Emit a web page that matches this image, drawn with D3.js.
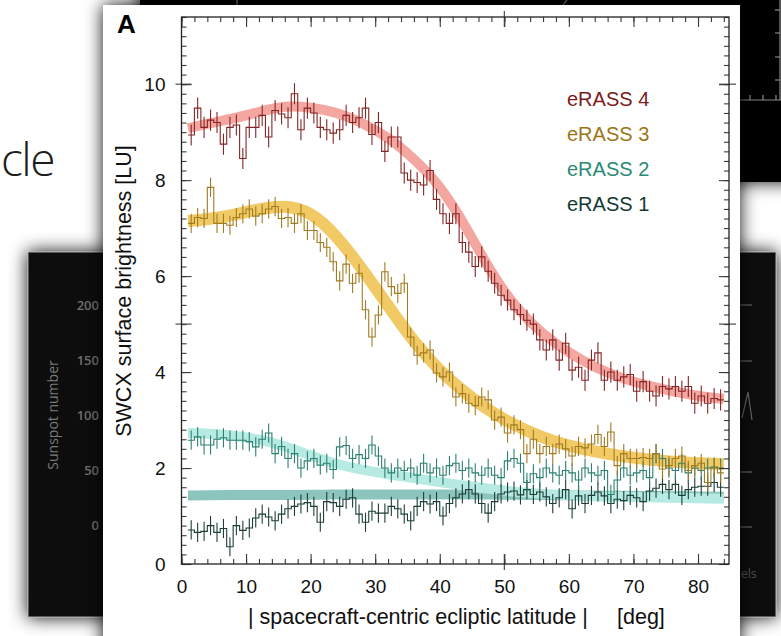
<!DOCTYPE html>
<html><head><meta charset="utf-8">
<script src="https://cdn.jsdelivr.net/npm/d3@7/dist/d3.min.js"></script>
<style>body{margin:0;background:#fff;overflow:hidden}svg{display:block}</style>
</head><body>
<script>
// ---------- DATA ----------
const binLo = d3.range(1, 84);              // latitude bins [deg], width 1
const binWidth = 1;
const e4 = [8.94,9.5,9.1,9.25,9.2,8.75,9.1,9.15,8.45,9.1,9.1,9.35,8.9,9.45,9.38,9.3,9.8,9.05,9.5,9.4,
            9.1,9.05,8.98,9.05,9.35,9.2,9.3,9.5,8.95,9.2,8.6,8.9,8.9,8.15,8.0,7.95,7.9,8.2,7.6,7.3,
            7.1,7.3,6.7,6.5,6.2,6.4,6.1,5.85,5.6,5.5,5.3,5.2,5.08,5.0,4.67,4.46,4.67,4.25,4.6,4.04,
            4.1,3.83,4.25,4.4,3.83,4.0,3.83,3.9,3.95,3.6,3.8,3.6,3.5,3.7,3.65,3.7,3.6,3.7,3.35,3.5,
            3.35,3.45,3.42];
const e3 = [7.1,7.22,7.2,7.85,7.1,7.1,7.06,7.22,7.3,7.4,7.25,7.3,7.4,7.45,7.2,7.22,7.1,7.3,6.95,6.95,
            6.7,6.6,6.3,5.9,6.25,5.85,6.06,5.3,4.73,5.19,6.09,5.78,5.64,5.85,4.73,4.35,4.4,4.46,3.98,3.9,
            4.0,3.48,3.55,3.35,3.3,3.48,3.42,3.0,3.06,2.73,2.9,2.8,2.3,2.6,2.3,2.45,2.3,2.5,2.4,2.25,
            2.45,2.42,2.5,2.7,2.45,2.75,2.05,2.3,2.2,2.2,2.22,2.2,2.3,1.98,2.05,2.2,2.25,1.95,2.05,2.1,
            1.7,2.0,1.9];
const e2 = [2.58,2.65,2.48,2.48,2.6,2.63,2.58,2.58,2.58,2.55,2.44,2.6,2.73,2.3,2.45,2.2,2.3,2.0,2.15,2.2,
            2.06,2.1,1.97,2.44,2.47,2.2,2.28,2.2,2.48,2.25,2.0,1.9,2.0,1.95,2.0,1.85,2.1,1.9,2.0,1.85,
            2.05,2.1,1.95,2.0,1.9,1.85,2.0,1.85,1.8,2.15,2.2,2.1,1.7,1.88,1.8,2.0,1.9,1.85,1.95,1.9,
            1.75,2.0,1.9,1.85,1.95,1.45,1.75,2.0,1.85,1.9,1.95,1.8,2.3,2.2,2.0,1.95,2.1,1.9,2.0,1.95,
            2.0,2.02,2.0];
const e1 = [0.71,0.66,0.68,0.8,0.66,0.74,0.36,0.8,0.7,0.75,0.96,1.04,0.98,0.9,1.04,1.15,1.2,1.25,1.28,1.2,
            0.87,1.3,1.28,1.2,1.35,1.38,1.04,0.87,1.1,1.06,1.06,1.2,1.15,1.04,0.9,1.2,1.3,1.25,1.3,1.0,
            1.26,1.38,1.46,1.55,1.46,1.26,1.06,1.3,1.46,1.5,1.52,1.44,1.55,1.45,1.5,1.4,1.26,1.38,1.55,1.15,
            1.42,1.26,1.43,1.5,1.42,1.26,1.35,1.32,1.43,1.38,1.3,1.52,1.58,1.66,1.55,1.66,1.43,1.55,1.6,1.62,
            1.62,1.7,1.6];
const errs = {e4:0.22, e3:0.2, e2:0.2, e1:0.2};

// smooth model curves (thick bands)
const modelLat = [1,4,8,12,16,20,24,28,32,36,40,44,48,52,56,60,64,68,72,76,80,84];
const m4 = [9.08,9.18,9.28,9.42,9.56,9.52,9.42,9.2,8.9,8.45,7.9,7.05,6.05,5.3,4.78,4.4,4.1,3.88,3.72,3.6,3.5,3.44];
const m3 = [7.15,7.18,7.27,7.4,7.48,7.35,6.85,6.15,5.38,4.62,4.02,3.56,3.16,2.86,2.63,2.46,2.34,2.25,2.18,2.13,2.1,2.08];
const m2 = [2.73,2.72,2.68,2.6,2.46,2.26,2.08,1.96,1.87,1.79,1.71,1.63,1.56,1.5,1.46,1.43,1.41,1.4,1.39,1.38,1.37,1.36];
const m1 = [1.43,1.43,1.44,1.44,1.44,1.44,1.45,1.45,1.45,1.45,1.45,1.45,1.45,1.44,1.44,1.43,1.43,1.42,1.42,1.41,1.41,1.4];

const xMajor = [0,10,20,30,40,50,60,70,80];
const yMajor = [0,2,4,6,8,10];
const legend = ["eRASS 4","eRASS 3","eRASS 2","eRASS 1"];
const sunspotTicks = ["200","150","100","50","0"];

// ---------- STYLE ----------
const col = {
  e4:{line:"#852626", band:"#f4a7a0", text:"#7c1c1c"},
  e3:{line:"#a27c22", band:"#f1c965", text:"#9c7616"},
  e2:{line:"#2d8171", band:"#b6eae2", text:"#2a8a77"},
  e1:{line:"#1d3f37", band:"#8bc5bd", text:"#143a32"}
};
const W = 781, H = 636;
const svg = d3.select("body").append("svg").attr("width", W).attr("height", H);
const defs = svg.append("defs");
const flt = defs.append("filter").attr("id","sh").attr("x","-30%").attr("y","-30%").attr("width","160%").attr("height","160%");
flt.append("feDropShadow").attr("dx",0).attr("dy",0).attr("stdDeviation",9).attr("flood-color","#000").attr("flood-opacity",0.95);

// ---------- BACKGROUND SLIDE ----------
svg.append("rect").attr("width",W).attr("height",H).attr("fill","#fff");
// black image top
svg.append("rect").attr("x",140).attr("y",-30).attr("width",700).attr("height",212).attr("fill","#000").attr("filter","url(#sh)");
const bg = svg.append("g").attr("stroke","#8a8a8a").attr("fill","none").attr("stroke-width",1.2);
bg.append("line").attr("x1",740).attr("x2",781).attr("y1",100).attr("y2",100);
[750,763,776].forEach(v=>bg.append("line").attr("x1",v).attr("x2",v).attr("y1",95).attr("y2",100));
bg.append("line").attr("x1",780).attr("x2",780).attr("y1",0).attr("y2",100);
[10,33,57,80].forEach(v=>bg.append("line").attr("x1",775).attr("x2",780).attr("y1",v).attr("y2",v));
bg.append("path").attr("d","M563,5 L567,0");
bg.append("line").attr("x1",237).attr("x2",237).attr("y1",0).attr("y2",5);

// left dark panel
svg.append("rect").attr("x",28).attr("y",252).attr("width",200).attr("height",365)
  .attr("fill","#0d0d0d").attr("stroke","#a8a8a8").attr("stroke-width",1).attr("filter","url(#sh)");
svg.append("text").attr("transform","translate(58,415) rotate(-90)").attr("text-anchor","middle")
  .attr("font-family","Open Sans").attr("font-size",14).attr("fill","#7a7a7a").text("Sunspot number");
sunspotTicks.forEach((t,i)=>{
  svg.append("text").attr("x",99).attr("y",305+i*55.2).attr("dy","0.35em").attr("text-anchor","end")
    .attr("font-family","Open Sans").attr("font-weight",600).attr("font-size",13).attr("fill","#707070").text(t);
});
// right dark panel
svg.append("rect").attr("x",700).attr("y",252).attr("width",76).attr("height",365)
  .attr("fill","#0d0d0d").attr("stroke","#b0b0b0").attr("stroke-width",1).attr("filter","url(#sh)");
const rp = svg.append("g").attr("stroke","#6a6a6a").attr("stroke-width",1.2).attr("fill","none");
[305,361,472,527].forEach(v=>rp.append("line").attr("x1",740).attr("x2",752).attr("y1",v).attr("y2",v));
rp.append("path").attr("d","M742,418 L748,392 L752,420");
svg.append("text").attr("x",741).attr("y",578).attr("font-family","Open Sans").attr("font-size",12).attr("fill","#555").text("els");

// slide title fragment
svg.append("text").attr("x",1).attr("y",176).attr("font-family","Open Sans")
  .attr("font-weight",300).attr("font-size",46).attr("letter-spacing",-1.5).attr("fill","#1e1e1e").text("cle");

// white figure panel
svg.append("rect").attr("x",103).attr("y",5).attr("width",637).attr("height",680).attr("fill","#fff").attr("filter","url(#sh)");

// ---------- CHART ----------
const x = d3.scaleLinear().domain([0, 84.8]).range([181.5, 729]);
const y = d3.scaleLinear().domain([0, 11.4]).range([564, 17]);
const g = svg.append("g");

// bands
const band = d3.line().x((d,i)=>x(modelLat[i])).y(d=>y(d)).curve(d3.curveBasis);
[["e1",m1,10],["e2",m2,10],["e3",m3,12],["e4",m4,10]].forEach(([k,arr,w])=>{
  g.append("path").attr("d",band(arr)).attr("fill","none").attr("stroke",col[k].band)
   .attr("stroke-width",w).attr("stroke-linecap","butt");
});

// step histograms with error bars
const step = d3.line().x(d=>x(d[0])).y(d=>y(d[1]));
[["e1",e1],["e2",e2],["e3",e3],["e4",e4]].forEach(([k,arr])=>{
  const pts = [];
  arr.forEach((v,i)=>{ pts.push([binLo[i],v]); pts.push([binLo[i]+binWidth,v]); });
  g.append("path").attr("d",step(pts)).attr("fill","none").attr("stroke",col[k].line).attr("stroke-width",1.1);
  g.append("g").selectAll("line").data(arr).join("line")
    .attr("x1",(v,i)=>x(binLo[i]+binWidth/2)).attr("x2",(v,i)=>x(binLo[i]+binWidth/2))
    .attr("y1",v=>y(v-errs[k])).attr("y2",v=>y(v+errs[k]))
    .attr("stroke",col[k].line).attr("stroke-width",1.1);
});

// axes
const font = "Liberation Sans, Arial, Helvetica, sans-serif";
function styleAx(sel){ sel.select(".domain").remove(); sel.selectAll("line").attr("stroke","#3a3a3a").attr("stroke-width",1.1);
  sel.selectAll("text").attr("font-family",font).attr("font-size",19).attr("fill","#111"); }
const xMinor = d3.range(0, 85, 2), yMinor = d3.range(0, 11.41, 0.2);
g.append("g").attr("transform",`translate(0,${y(0)})`).call(d3.axisBottom(x).tickValues(xMinor).tickSize(-5).tickFormat("")).call(styleAx);
g.append("g").attr("transform",`translate(0,${y(0)})`).call(d3.axisBottom(x).tickValues(xMajor).tickSize(-10).tickPadding(16).tickFormat(d3.format("d"))).call(styleAx);
g.append("g").attr("transform",`translate(0,${y(11.4)})`).call(d3.axisTop(x).tickValues(xMinor).tickSize(-5).tickFormat("")).call(styleAx);
g.append("g").attr("transform",`translate(0,${y(11.4)})`).call(d3.axisTop(x).tickValues(xMajor).tickSize(-10).tickFormat("")).call(styleAx);
g.append("g").attr("transform",`translate(${x(0)},0)`).call(d3.axisLeft(y).tickValues(yMinor).tickSize(-5).tickFormat("")).call(styleAx);
g.append("g").attr("transform",`translate(${x(0)},0)`).call(d3.axisLeft(y).tickValues(yMajor).tickSize(-10).tickPadding(16).tickFormat(d3.format("d"))).call(styleAx);
g.append("g").attr("transform",`translate(${x(84.8)},0)`).call(d3.axisRight(y).tickValues(yMinor).tickSize(-5).tickFormat("")).call(styleAx);
g.append("g").attr("transform",`translate(${x(84.8)},0)`).call(d3.axisRight(y).tickValues(yMajor).tickSize(-10).tickFormat("")).call(styleAx);
// centre crossing marks
[5,10].forEach(v=>{
  g.append("line").attr("x1",x(0)-6).attr("x2",x(0)+10).attr("y1",y(v)).attr("y2",y(v)).attr("stroke","#3a3a3a").attr("stroke-width",1.1);
  g.append("line").attr("x1",x(84.8)-10).attr("x2",x(84.8)+7).attr("y1",y(v)).attr("y2",y(v)).attr("stroke","#3a3a3a").attr("stroke-width",1.1);
});
g.append("line").attr("x1",x(50)).attr("x2",x(50)).attr("y1",y(0)-10).attr("y2",y(0)+6).attr("stroke","#3a3a3a").attr("stroke-width",1.1);
g.append("line").attr("x1",x(50)).attr("x2",x(50)).attr("y1",y(11.4)+10).attr("y2",y(11.4)-6).attr("stroke","#3a3a3a").attr("stroke-width",1.1);
// frame
g.append("rect").attr("x",x(0)).attr("y",y(11.4)).attr("width",x(84.8)-x(0)).attr("height",y(0)-y(11.4))
  .attr("fill","none").attr("stroke","#222").attr("stroke-width",1.3);

// axis titles
g.append("text").attr("transform",`translate(131,291) rotate(-90)`).attr("text-anchor","middle")
  .attr("font-family",font).attr("font-size",21.5).attr("fill","#111").text("SWCX surface brightness [LU]");
g.append("text").attr("x",248).attr("y",624).attr("font-family",font).attr("font-size",21.5).attr("fill","#111")
  .text("| spacecraft-centric ecliptic latitude |");
g.append("text").attr("x",617).attr("y",624).attr("font-family",font).attr("font-size",21.5).attr("fill","#111").text("[deg]");

// panel letter
g.append("text").attr("x",117).attr("y",33).attr("font-family",font).attr("font-weight","bold").attr("font-size",26).attr("fill","#000").text("A");

// legend
const lk = ["e4","e3","e2","e1"];
legend.forEach((t,i)=>{
  g.append("text").attr("x",567).attr("y",106+i*35).attr("font-family",font).attr("font-size",20)
   .attr("fill",col[lk[i]].text).text(t);
});
</script>
</body></html>
